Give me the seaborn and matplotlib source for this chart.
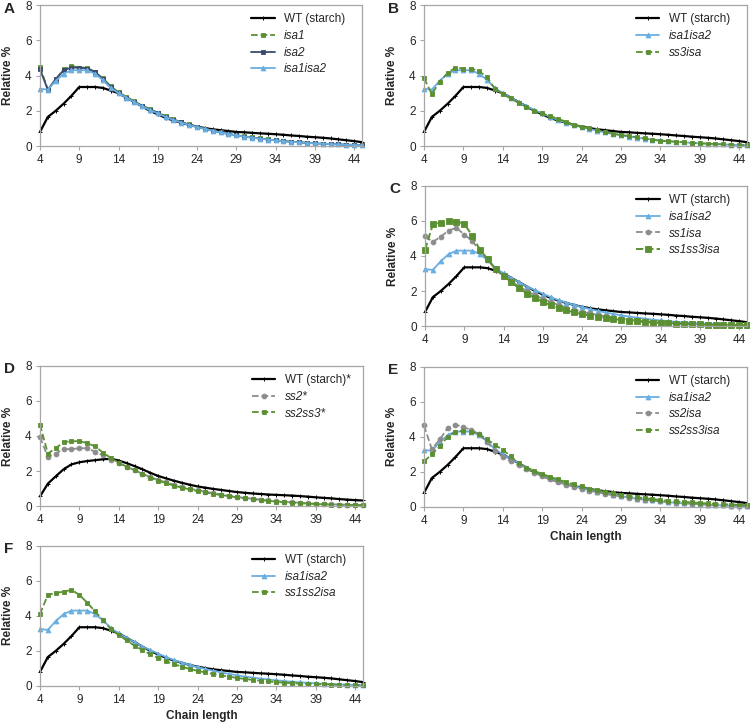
import matplotlib
matplotlib.use("Agg")
import matplotlib.pyplot as plt
import seaborn as sns
import pandas as pd

# Longitud de cadena (eje x, categorías)
chain_length = list(range(4, 46))

# Valores (Relative %)
wt = [0.80, 1.65, 2.00, 2.40, 2.85, 3.35, 3.35, 3.35, 3.30, 3.15, 3.00, 2.75, 2.50, 2.25,
      2.00, 1.80, 1.60, 1.45, 1.32, 1.20, 1.10, 1.02, 0.95, 0.90, 0.85, 0.80, 0.78, 0.75,
      0.72, 0.70, 0.67, 0.64, 0.60, 0.57, 0.53, 0.50, 0.47, 0.43, 0.38, 0.33, 0.28, 0.22]
isa1isa2 = [3.25, 3.20, 3.70, 4.10, 4.30, 4.30, 4.30, 4.10, 3.75, 3.30, 3.00, 2.75, 2.50, 2.25,
            2.05, 1.85, 1.65, 1.48, 1.33, 1.20, 1.08, 0.97, 0.87, 0.77, 0.69, 0.61, 0.54, 0.48,
            0.42, 0.37, 0.32, 0.28, 0.24, 0.21, 0.18, 0.15, 0.13, 0.11, 0.09, 0.07, 0.06, 0.05]
isa1isa2_sd4 = 0.65
isa1 = [4.50, 3.20, 3.75, 4.35, 4.55, 4.45, 4.45, 4.20, 3.85, 3.40, 3.05, 2.80, 2.55, 2.30,
        2.10, 1.90, 1.70, 1.52, 1.37, 1.23, 1.10, 0.98, 0.88, 0.78, 0.70, 0.62, 0.55, 0.49,
        0.43, 0.38, 0.33, 0.29, 0.25, 0.22, 0.19, 0.16, 0.14, 0.12, 0.10, 0.08, 0.07, 0.06]
isa2 = [4.35, 3.20, 3.80, 4.30, 4.45, 4.45, 4.40, 4.20, 3.80, 3.35, 3.00, 2.75, 2.50, 2.27,
        2.07, 1.87, 1.67, 1.50, 1.35, 1.22, 1.09, 0.97, 0.87, 0.77, 0.69, 0.61, 0.54, 0.48,
        0.42, 0.37, 0.32, 0.28, 0.24, 0.21, 0.18, 0.15, 0.13, 0.11, 0.09, 0.07, 0.06, 0.05]
ss3isa = [3.85, 2.95, 3.65, 4.15, 4.45, 4.40, 4.40, 4.25, 3.90, 3.25, 2.95, 2.70, 2.45, 2.22,
          2.00, 1.85, 1.70, 1.55, 1.38, 1.22, 1.10, 1.00, 0.90, 0.80, 0.70, 0.63, 0.57, 0.50,
          0.43, 0.36, 0.30, 0.27, 0.24, 0.21, 0.18, 0.16, 0.14, 0.12, 0.10, 0.08, 0.06, 0.05]
ss1isa = [5.13, 4.80, 5.10, 5.45, 5.60, 5.22, 4.85, 4.30, 3.80, 3.20, 2.85, 2.55, 2.25, 2.00,
          1.75, 1.55, 1.37, 1.20, 1.05, 0.93, 0.82, 0.72, 0.63, 0.55, 0.48, 0.42, 0.37, 0.32,
          0.28, 0.24, 0.21, 0.18, 0.16, 0.14, 0.12, 0.10, 0.09, 0.08, 0.07, 0.06, 0.05, 0.04]
ss1ss3isa = [4.35, 5.80, 5.90, 6.00, 5.95, 5.85, 5.15, 4.35, 3.80, 3.25, 2.85, 2.50, 2.15, 1.85,
             1.60, 1.38, 1.20, 1.03, 0.90, 0.78, 0.68, 0.60, 0.52, 0.46, 0.40, 0.35, 0.30, 0.27,
             0.23, 0.20, 0.18, 0.16, 0.14, 0.12, 0.10, 0.09, 0.08, 0.07, 0.06, 0.05, 0.05, 0.04]
wt_d = [0.55, 1.28, 1.70, 2.10, 2.38, 2.50, 2.57, 2.62, 2.67, 2.70, 2.60, 2.45, 2.28, 2.10,
        1.90, 1.72, 1.58, 1.45, 1.33, 1.22, 1.12, 1.05, 0.98, 0.92, 0.86, 0.80, 0.76, 0.72,
        0.69, 0.66, 0.64, 0.62, 0.60, 0.57, 0.54, 0.50, 0.47, 0.44, 0.40, 0.37, 0.34, 0.32]
ss2 = [3.95, 2.80, 3.00, 3.25, 3.25, 3.30, 3.30, 3.10, 2.90, 2.65, 2.45, 2.25, 2.05, 1.85,
       1.65, 1.50, 1.35, 1.22, 1.10, 1.00, 0.90, 0.82, 0.74, 0.66, 0.60, 0.53, 0.47, 0.42,
       0.37, 0.32, 0.28, 0.25, 0.22, 0.19, 0.16, 0.14, 0.12, 0.10, 0.09, 0.08, 0.07, 0.06]
ss2ss3 = [4.65, 3.00, 3.30, 3.65, 3.70, 3.70, 3.60, 3.40, 3.05, 2.75, 2.48, 2.25, 2.05, 1.82,
          1.62, 1.45, 1.30, 1.17, 1.05, 0.95, 0.86, 0.78, 0.70, 0.63, 0.57, 0.50, 0.44, 0.39,
          0.34, 0.30, 0.26, 0.22, 0.19, 0.16, 0.14, 0.12, 0.10, 0.09, 0.08, 0.07, 0.06, 0.06]
ss2isa = [4.65, 3.30, 3.85, 4.50, 4.70, 4.55, 4.40, 4.15, 3.70, 3.20, 2.85, 2.60, 2.38, 2.15,
          1.95, 1.75, 1.57, 1.42, 1.28, 1.15, 1.04, 0.93, 0.84, 0.75, 0.67, 0.60, 0.53, 0.47,
          0.42, 0.37, 0.32, 0.28, 0.25, 0.22, 0.19, 0.16, 0.14, 0.12, 0.10, 0.08, 0.07, 0.06]
ss2ss3isa = [2.60, 3.00, 3.45, 4.00, 4.30, 4.35, 4.30, 4.15, 3.85, 3.55, 3.25, 2.90, 2.50, 2.25,
             2.05, 1.88, 1.72, 1.57, 1.43, 1.30, 1.17, 1.05, 0.95, 0.86, 0.78, 0.70, 0.63, 0.56,
             0.50, 0.45, 0.40, 0.36, 0.32, 0.29, 0.26, 0.23, 0.20, 0.18, 0.16, 0.14, 0.12, 0.10]
ss1ss2isa = [4.10, 5.20, 5.30, 5.38, 5.48, 5.20, 4.75, 4.25, 3.75, 3.25, 2.90, 2.60, 2.30, 2.05,
             1.80, 1.60, 1.40, 1.25, 1.10, 0.97, 0.86, 0.77, 0.68, 0.60, 0.53, 0.46, 0.40, 0.35,
             0.30, 0.26, 0.22, 0.19, 0.16, 0.14, 0.12, 0.10, 0.09, 0.08, 0.07, 0.06, 0.05, 0.05]

verde = '#5b9032'
estilos = {
    'wt': dict(color='black', marker='+', linestyle='-', lw=1.6, ms=3, mew=0.7),
    'azul': dict(color='#6aaee0', marker='^', linestyle='-', lw=1.3, ms=3.5, mew=0.6),
    'navy': dict(color='#3a4a6e', marker='s', linestyle='-', lw=1.3, ms=2.2, mew=0.6),
    'verde': dict(color=verde, marker='s', linestyle='--', lw=1.3, ms=3.5, mew=0.6),
    'verde_g': dict(color=verde, marker='s', linestyle='--', lw=1.4, ms=4.3, mew=0.6),
    'gris': dict(color='#8c8c8c', marker='o', linestyle='--', lw=1.3, ms=3.5, mew=0.6),
}

# (letra, posición [left, bottom, width, height], series, eje x con etiqueta)
paneles = [
    ('A', [0.0533, 0.798, 0.4293, 0.195],
     [('WT (starch)', wt, 'wt'), ('isa1', isa1, 'verde'), ('isa2', isa2, 'navy'),
      ('isa1isa2', isa1isa2, 'azul')], False),
    ('B', [0.5653, 0.798, 0.4307, 0.195],
     [('WT (starch)', wt, 'wt'), ('isa1isa2', isa1isa2, 'azul'), ('ss3isa', ss3isa, 'verde')], False),
    ('C', [0.5667, 0.549, 0.4293, 0.194],
     [('WT (starch)', wt, 'wt'), ('isa1isa2', isa1isa2, 'azul'), ('ss1isa', ss1isa, 'gris'),
      ('ss1ss3isa', ss1ss3isa, 'verde_g')], False),
    ('D', [0.0533, 0.300, 0.4307, 0.194],
     [('WT (starch)*', wt_d, 'wt'), ('ss2*', ss2, 'gris'), ('ss2ss3*', ss2ss3, 'verde')], False),
    ('E', [0.5653, 0.2988, 0.4307, 0.194],
     [('WT (starch)', wt, 'wt'), ('isa1isa2', isa1isa2, 'azul'), ('ss2isa', ss2isa, 'gris'),
      ('ss2ss3isa', ss2ss3isa, 'verde')], True),
    ('F', [0.0533, 0.0512, 0.4307, 0.194],
     [('WT (starch)', wt, 'wt'), ('isa1isa2', isa1isa2, 'azul'), ('ss1ss2isa', ss1ss2isa, 'verde')], True),
]

sns.set_style("white")
plt.rcParams['font.family'] = ['Liberation Sans', 'DejaVu Sans']

fig = plt.figure(figsize=(7.5, 7.23), dpi=100)
gris_eje = '#a6a6a6'

for letra, pos, series, con_xlabel in paneles:
    ax = fig.add_axes(pos)
    for nombre, valores, est in series:
        s = estilos[est]
        df = pd.DataFrame({'chain': chain_length, 'rel': valores})
        sns.lineplot(data=df, x='chain', y='rel', ax=ax, label=nombre,
                     color=s['color'], marker=s['marker'], linestyle=s['linestyle'],
                     linewidth=s['lw'], markersize=s['ms'], markeredgecolor=s['color'],
                     markeredgewidth=s['mew'], clip_on=False)
        if est == 'azul':
            ax.vlines(chain_length[0], valores[0] - isa1isa2_sd4, valores[0] + isa1isa2_sd4,
                      color='#333333', lw=0.7, zorder=1)
    ax.set_xlim(4, 45)
    ax.set_ylim(0, 8)
    ax.set_xticks(range(4, 46, 5))
    ax.set_yticks([0, 2, 4, 6, 8])
    for sp in ax.spines.values():
        sp.set_color(gris_eje)
        sp.set_linewidth(0.9)
    ax.tick_params(axis='both', direction='out', length=3, width=0.8, color=gris_eje,
                   labelsize=8.5, pad=3, left=True, bottom=True)
    ax.set_ylabel('Relative %', fontsize=8.5, fontweight='bold')
    ax.yaxis.set_label_coords(-0.08, 0.5)
    if con_xlabel:
        ax.set_xlabel('Chain length', fontsize=8.5, fontweight='bold', labelpad=3)
    else:
        ax.set_xlabel('')
    leg = ax.legend(loc='upper left', bbox_to_anchor=(0.63, 1.0), frameon=False,
                    fontsize=8.5, handlelength=2.0, labelspacing=0.4, borderaxespad=0.3)
    for t in leg.get_texts():
        if not t.get_text().startswith('WT'):
            t.set_style('italic')
    fig.text(pos[0] - 0.048, pos[1] + pos[3] - 0.005, letra, fontsize=11, fontweight='bold',
             ha='left', va='center')

fig.savefig('out.png', dpi=100)
